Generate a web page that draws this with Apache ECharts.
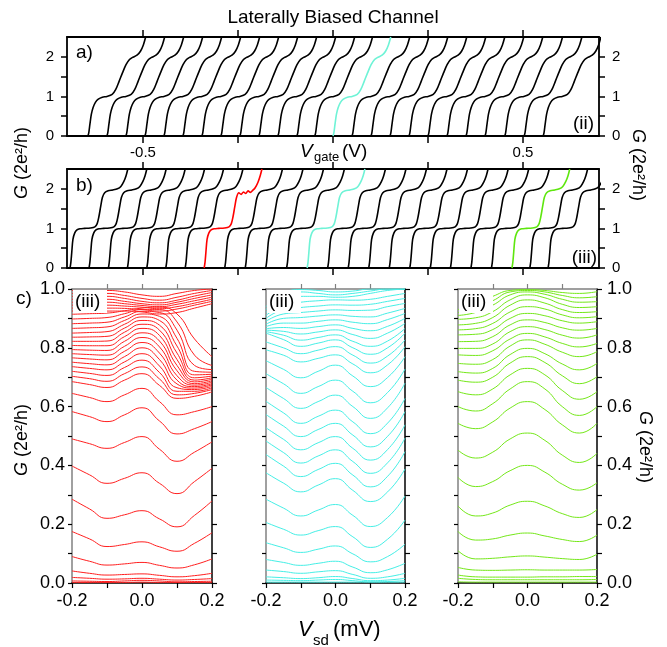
<!DOCTYPE html>
<html>
<head>
<meta charset="utf-8">
<script src="https://cdn.jsdelivr.net/npm/echarts@6/dist/echarts.min.js"></script>
<style>
html, body { margin: 0; padding: 0; background: #fff; }
#chart { width: 667px; height: 647px; }
</style>
</head>
<body>
<div id="chart"></div>
<script>
// ---- panel a: G(Vgate) traces, gate voltage where each trace leaves G = 0
var aStart = [-0.645, -0.595, -0.545, -0.495, -0.445, -0.395, -0.345, -0.295, -0.245, -0.195,
              -0.145, -0.095, -0.048, 0.0, 0.05, 0.1, 0.15, 0.2, 0.25, 0.3,
              0.35, 0.4, 0.452, 0.503, 0.553];
var aWidth = 0.152;          // gate span of one trace, G = 0 .. 2.5
var aCyan = 13;              // highlighted trace
// shape of one trace: fraction of the span -> G
var stepAU = [0, 0.015, 0.035, 0.06, 0.09, 0.13, 0.18, 0.25, 0.33, 0.42, 0.48, 0.54, 0.6, 0.66, 0.72, 0.78, 0.85, 0.91, 0.96, 1.0];
var stepAG = [0, 0.08, 0.3, 0.55, 0.72, 0.85, 0.93, 0.98, 1.0, 1.05, 1.17, 1.38, 1.6, 1.8, 1.93, 1.99, 2.04, 2.14, 2.3, 2.5];

// ---- panel b
var bStart = [-0.692, -0.642, -0.591, -0.541, -0.490, -0.440, -0.389, -0.339, -0.285, -0.231,
              -0.177, -0.122, -0.068, -0.014, 0.040, 0.094, 0.148, 0.202, 0.256, 0.309,
              0.363, 0.417, 0.471, 0.518, 0.566];
var bWidth = 0.152;
var bRed = 7, bCyan = 12, bGreen = 22;
var stepBU = [0, 0.015, 0.03, 0.05, 0.08, 0.12, 0.17, 0.25, 0.35, 0.43, 0.47, 0.5, 0.53, 0.56, 0.6, 0.66, 0.74, 0.82, 0.88, 0.93, 0.97, 1.0];
var stepBG = [0, 0.15, 0.4, 0.72, 0.88, 0.96, 0.99, 1.0, 1.01, 1.04, 1.12, 1.3, 1.55, 1.78, 1.9, 1.95, 1.97, 2.0, 2.06, 2.18, 2.33, 2.5];
// the red trace wobbles on the 2 plateau
var stepRedU = [0, 0.015, 0.03, 0.05, 0.08, 0.12, 0.17, 0.25, 0.35, 0.43, 0.47, 0.5, 0.53, 0.56, 0.6, 0.64, 0.68, 0.72, 0.76, 0.8, 0.84, 0.88, 0.93, 0.97, 1.0];
var stepRedG = [0, 0.15, 0.4, 0.72, 0.88, 0.96, 0.99, 1.0, 1.01, 1.04, 1.12, 1.3, 1.55, 1.78, 1.9, 1.86, 1.92, 1.88, 1.95, 1.91, 1.96, 2.02, 2.16, 2.33, 2.5];

// ---- panel c: G(Vsd), one row per gate voltage
var vsd = [-0.2, -0.15, -0.1, -0.05, 0, 0.05, 0.1, 0.15, 0.2];

var redG = [
  [0.002, 0.002, 0.002, 0.002, 0.003, 0.002, 0.002, 0.002, 0.002],
  [0.007, 0.006, 0.005, 0.007, 0.009, 0.007, 0.004, 0.005, 0.006],
  [0.019, 0.016, 0.013, 0.014, 0.016, 0.013, 0.010, 0.012, 0.015],
  [0.041, 0.033, 0.027, 0.029, 0.031, 0.026, 0.021, 0.025, 0.033],
  [0.090, 0.074, 0.061, 0.065, 0.070, 0.060, 0.051, 0.062, 0.082],
  [0.175, 0.150, 0.124, 0.131, 0.140, 0.123, 0.108, 0.135, 0.171],
  [0.285, 0.252, 0.220, 0.232, 0.246, 0.218, 0.191, 0.230, 0.279],
  [0.398, 0.368, 0.339, 0.356, 0.375, 0.339, 0.304, 0.345, 0.390],
  [0.490, 0.474, 0.458, 0.478, 0.498, 0.455, 0.414, 0.445, 0.480],
  [0.583, 0.566, 0.549, 0.572, 0.596, 0.551, 0.507, 0.525, 0.549],
  [0.645, 0.631, 0.617, 0.640, 0.662, 0.617, 0.572, 0.583, 0.600],
  [0.685, 0.675, 0.665, 0.690, 0.712, 0.672, 0.628, 0.635, 0.650],
  [0.703, 0.695, 0.686, 0.712, 0.735, 0.694, 0.640, 0.645, 0.658],
  [0.720, 0.713, 0.706, 0.733, 0.758, 0.716, 0.652, 0.652, 0.664],
  [0.736, 0.730, 0.725, 0.752, 0.780, 0.738, 0.664, 0.658, 0.669],
  [0.751, 0.746, 0.742, 0.770, 0.800, 0.760, 0.677, 0.663, 0.674],
  [0.766, 0.762, 0.759, 0.788, 0.818, 0.782, 0.690, 0.668, 0.678],
  [0.780, 0.777, 0.775, 0.805, 0.835, 0.803, 0.705, 0.673, 0.683],
  [0.794, 0.792, 0.791, 0.822, 0.851, 0.823, 0.722, 0.678, 0.688],
  [0.808, 0.807, 0.807, 0.838, 0.866, 0.842, 0.740, 0.684, 0.693],
  [0.822, 0.822, 0.823, 0.853, 0.880, 0.860, 0.760, 0.690, 0.698],
  [0.836, 0.837, 0.839, 0.867, 0.893, 0.877, 0.782, 0.698, 0.704],
  [0.850, 0.852, 0.855, 0.880, 0.905, 0.893, 0.806, 0.708, 0.710],
  [0.866, 0.868, 0.871, 0.893, 0.915, 0.907, 0.832, 0.720, 0.717],
  [0.882, 0.884, 0.887, 0.905, 0.924, 0.920, 0.860, 0.740, 0.726],
  [0.898, 0.900, 0.903, 0.916, 0.930, 0.930, 0.888, 0.775, 0.740],
  [0.914, 0.916, 0.918, 0.926, 0.935, 0.938, 0.915, 0.830, 0.770],
  [0.925, 0.925, 0.925, 0.925, 0.922, 0.915, 0.920, 0.935, 0.950],
  [0.935, 0.935, 0.935, 0.934, 0.930, 0.925, 0.932, 0.945, 0.958],
  [0.945, 0.945, 0.945, 0.942, 0.938, 0.933, 0.940, 0.952, 0.965],
  [0.955, 0.955, 0.955, 0.950, 0.944, 0.940, 0.948, 0.960, 0.972],
  [0.965, 0.965, 0.965, 0.958, 0.950, 0.946, 0.955, 0.968, 0.980],
  [0.975, 0.975, 0.975, 0.968, 0.958, 0.953, 0.962, 0.976, 0.988],
  [0.985, 0.985, 0.985, 0.978, 0.968, 0.962, 0.972, 0.985, 0.995],
  [0.995, 0.995, 0.995, 0.990, 0.980, 0.975, 0.985, 0.995, 1.000]
];

var cyanG = [
  [0.003, 0.003, 0.003, 0.003, 0.003, 0.003, 0.003, 0.003, 0.003],
  [0.010, 0.009, 0.008, 0.010, 0.012, 0.008, 0.004, 0.005, 0.008],
  [0.021, 0.018, 0.015, 0.018, 0.022, 0.015, 0.008, 0.010, 0.016],
  [0.044, 0.039, 0.033, 0.038, 0.042, 0.029, 0.016, 0.021, 0.033],
  [0.080, 0.070, 0.060, 0.067, 0.074, 0.054, 0.035, 0.045, 0.067],
  [0.137, 0.120, 0.104, 0.115, 0.126, 0.099, 0.072, 0.090, 0.132],
  [0.206, 0.183, 0.163, 0.178, 0.192, 0.157, 0.121, 0.149, 0.214],
  [0.285, 0.255, 0.228, 0.248, 0.267, 0.230, 0.192, 0.223, 0.296],
  [0.375, 0.340, 0.310, 0.333, 0.355, 0.315, 0.277, 0.310, 0.388],
  [0.437, 0.398, 0.362, 0.386, 0.407, 0.367, 0.327, 0.363, 0.447],
  [0.483, 0.444, 0.408, 0.432, 0.453, 0.413, 0.373, 0.409, 0.493],
  [0.528, 0.489, 0.453, 0.477, 0.498, 0.458, 0.418, 0.454, 0.538],
  [0.573, 0.534, 0.498, 0.522, 0.543, 0.503, 0.463, 0.499, 0.583],
  [0.618, 0.579, 0.543, 0.567, 0.588, 0.548, 0.508, 0.544, 0.628],
  [0.665, 0.628, 0.594, 0.617, 0.639, 0.600, 0.560, 0.596, 0.680],
  [0.712, 0.678, 0.645, 0.668, 0.690, 0.652, 0.613, 0.648, 0.728],
  [0.756, 0.727, 0.698, 0.720, 0.741, 0.704, 0.668, 0.699, 0.770],
  [0.793, 0.775, 0.752, 0.764, 0.776, 0.745, 0.715, 0.742, 0.804],
  [0.820, 0.800, 0.780, 0.792, 0.804, 0.775, 0.748, 0.772, 0.827],
  [0.850, 0.828, 0.805, 0.816, 0.827, 0.800, 0.778, 0.800, 0.850],
  [0.855, 0.843, 0.826, 0.835, 0.844, 0.822, 0.805, 0.823, 0.866],
  [0.860, 0.856, 0.847, 0.854, 0.861, 0.845, 0.832, 0.850, 0.883],
  [0.865, 0.869, 0.866, 0.872, 0.878, 0.866, 0.858, 0.873, 0.900],
  [0.872, 0.884, 0.884, 0.890, 0.895, 0.887, 0.882, 0.896, 0.917],
  [0.880, 0.900, 0.903, 0.908, 0.912, 0.907, 0.905, 0.918, 0.934],
  [0.890, 0.915, 0.920, 0.925, 0.929, 0.927, 0.928, 0.940, 0.951],
  [0.900, 0.930, 0.937, 0.942, 0.946, 0.945, 0.948, 0.958, 0.968],
  [0.910, 0.945, 0.955, 0.960, 0.963, 0.962, 0.965, 0.975, 0.985],
  [0.920, 0.960, 0.975, 0.975, 0.972, 0.975, 0.985, 0.995, 1.000],
  [0.930, 0.975, 0.990, 0.985, 0.980, 0.985, 0.993, 1.000, 1.000],
  [0.940, 0.985, 0.998, 0.995, 0.990, 0.993, 1.000, 1.000, 1.000]
];

var greenG = [
  [0.004, 0.003, 0.003, 0.003, 0.003, 0.003, 0.003, 0.003, 0.003],
  [0.016, 0.012, 0.011, 0.011, 0.011, 0.011, 0.011, 0.011, 0.012],
  [0.027, 0.021, 0.020, 0.020, 0.020, 0.021, 0.021, 0.022, 0.022],
  [0.053, 0.044, 0.043, 0.044, 0.045, 0.044, 0.044, 0.044, 0.046],
  [0.110, 0.082, 0.084, 0.089, 0.092, 0.088, 0.083, 0.080, 0.098],
  [0.175, 0.146, 0.150, 0.163, 0.170, 0.160, 0.148, 0.141, 0.163],
  [0.262, 0.228, 0.238, 0.265, 0.278, 0.262, 0.236, 0.223, 0.250],
  [0.359, 0.328, 0.345, 0.382, 0.400, 0.377, 0.336, 0.316, 0.341],
  [0.452, 0.425, 0.445, 0.490, 0.510, 0.485, 0.435, 0.410, 0.441],
  [0.543, 0.525, 0.548, 0.595, 0.617, 0.590, 0.538, 0.510, 0.543],
  [0.600, 0.585, 0.610, 0.660, 0.685, 0.660, 0.600, 0.570, 0.600],
  [0.651, 0.640, 0.660, 0.708, 0.730, 0.708, 0.655, 0.625, 0.651],
  [0.690, 0.683, 0.700, 0.748, 0.770, 0.750, 0.705, 0.678, 0.702],
  [0.719, 0.714, 0.730, 0.777, 0.798, 0.780, 0.745, 0.725, 0.747],
  [0.747, 0.744, 0.760, 0.806, 0.827, 0.812, 0.785, 0.770, 0.787],
  [0.776, 0.774, 0.790, 0.830, 0.849, 0.837, 0.815, 0.803, 0.815],
  [0.798, 0.798, 0.813, 0.855, 0.872, 0.862, 0.843, 0.833, 0.844],
  [0.821, 0.822, 0.838, 0.878, 0.895, 0.886, 0.868, 0.860, 0.866],
  [0.844, 0.846, 0.862, 0.900, 0.917, 0.909, 0.892, 0.884, 0.889],
  [0.861, 0.865, 0.883, 0.922, 0.940, 0.932, 0.912, 0.902, 0.906],
  [0.878, 0.883, 0.903, 0.945, 0.963, 0.952, 0.930, 0.920, 0.923],
  [0.897, 0.902, 0.923, 0.963, 0.980, 0.970, 0.948, 0.937, 0.940],
  [0.910, 0.920, 0.945, 0.980, 0.990, 0.982, 0.965, 0.955, 0.957],
  [0.920, 0.935, 0.960, 0.990, 0.995, 0.990, 0.978, 0.970, 0.974],
  [0.930, 0.950, 0.975, 0.995, 0.998, 0.995, 0.988, 0.985, 0.991]
];

var FONT = '"Liberation Sans", Arial, sans-serif';
var CYAN = '#6ff3d6', RED = '#ff0000', GREEN = '#5ee60e';
var RED_C = '#ff1f1f', CYAN_C = '#45efe6', GREEN_C = '#74e818';
var GREY = '#808080';

var chart = echarts.init(document.getElementById('chart'));

function stepTrace(x0, w, us, gs) {
  return us.map(function (u, i) { return [x0 + u * w, gs[i]]; });
}

var series = [];
aStart.forEach(function (x0, i) {
  series.push({
    type: 'line', xAxisIndex: 0, yAxisIndex: 0, showSymbol: false, smooth: 0.3,
    data: stepTrace(x0, aWidth, stepAU, stepAG),
    lineStyle: { color: i === aCyan ? CYAN : '#000', width: 1.6 }, z: i === aCyan ? 3 : 2
  });
});
bStart.forEach(function (x0, i) {
  var col = '#000';
  if (i === bRed) col = RED;
  if (i === bCyan) col = CYAN;
  if (i === bGreen) col = GREEN;
  var d = i === bRed ? stepTrace(x0, bWidth, stepRedU, stepRedG) : stepTrace(x0, bWidth, stepBU, stepBG);
  series.push({
    type: 'line', xAxisIndex: 2, yAxisIndex: 2, showSymbol: false, smooth: 0.3,
    data: d, lineStyle: { color: col, width: 1.6 }, z: col === '#000' ? 2 : 3
  });
});

function addFan(rows, grid, color) {
  rows.forEach(function (row) {
    series.push({
      type: 'line', xAxisIndex: grid * 2, yAxisIndex: grid * 2, showSymbol: false, smooth: 0.5,
      data: row.map(function (g, i) { return [vsd[i], g]; }),
      lineStyle: { color: color, width: 1 }
    });
  });
}
addFan(redG, 2, RED_C);
addFan(cyanG, 3, CYAN_C);
addFan(greenG, 4, GREEN_C);

var grids = [
  { left: 67, top: 37, width: 532, height: 99 },
  { left: 67, top: 169, width: 532, height: 99 },
  { left: 72, top: 289, width: 140, height: 294 },
  { left: 266, top: 289, width: 139, height: 294 },
  { left: 458, top: 289, width: 139, height: 294 }
];

var xAxes = [], yAxes = [];
function lbl(size, margin, show, values, fmt) {
  var o = { show: show, fontSize: size, fontFamily: FONT, color: '#000', margin: margin };
  if (values) o.customValues = values;
  if (fmt) o.formatter = fmt;
  return o;
}
// panels a, b
[0, 1].forEach(function (g) {
  ['bottom', 'top'].forEach(function (p) {
    xAxes.push({
      type: 'value', gridIndex: g, position: p, min: -0.7, max: 0.7,
      axisLine: { onZero: false, lineStyle: { color: '#000', width: 1.8 } },
      axisTick: { inside: false, length: 7, customValues: [-0.5, -0.25, 0, 0.25, 0.5], lineStyle: { width: 1.5 } },
      axisLabel: lbl(15, 9, g === 0 && p === 'bottom', [-0.5, 0.5]), splitLine: { show: false }
    });
  });
  ['left', 'right'].forEach(function (p) {
    yAxes.push({
      type: 'value', gridIndex: g, position: p, min: 0, max: 2.5,
      axisLine: { show: true, onZero: false, lineStyle: { color: '#000', width: 1.8 } },
      axisTick: { show: true, inside: false, length: 6, customValues: [0, 0.5, 1, 1.5, 2], lineStyle: { width: 1.5 } },
      axisLabel: lbl(15, 13, true, [0, 1, 2]), splitLine: { show: false }
    });
  });
});
// panel c
[2, 3, 4].forEach(function (g) {
  xAxes.push({
    type: 'value', gridIndex: g, position: 'bottom', min: -0.2, max: 0.2,
    axisLine: { onZero: false, lineStyle: { color: '#000', width: 1.5 } },
    axisTick: { inside: false, length: 5, customValues: [-0.2, -0.1, 0, 0.1, 0.2], lineStyle: { width: 1.2 } },
    axisLabel: lbl(18, 9, true, [-0.2, 0, 0.2], function (v) { return v.toFixed(1); }),
    splitLine: { show: false }
  });
  xAxes.push({
    type: 'value', gridIndex: g, position: 'top', min: -0.2, max: 0.2,
    axisLine: { onZero: false, lineStyle: { color: GREY, width: 1.5 } },
    axisTick: { inside: false, length: 5, customValues: [-0.1, 0, 0.1], lineStyle: { width: 1.2 } },
    axisLabel: { show: false }, splitLine: { show: false }
  });
  var ticks = [0, 0.1, 0.2, 0.3, 0.4, 0.5, 0.6, 0.7, 0.8, 0.9, 1.0];
  yAxes.push({
    type: 'value', gridIndex: g, position: 'left', min: 0, max: 1,
    axisLine: { show: true, onZero: false, lineStyle: { color: GREY, width: 1.5 } },
    axisTick: { show: true, inside: false, length: 4, customValues: ticks, lineStyle: { color: '#000', width: 1.2 } },
    axisLabel: lbl(18, 7, g === 2, [0, 0.2, 0.4, 0.6, 0.8, 1.0], function (v) { return v.toFixed(1); }),
    splitLine: { show: false }
  });
  yAxes.push({
    type: 'value', gridIndex: g, position: 'right', min: 0, max: 1,
    axisLine: { show: true, onZero: false, lineStyle: { color: '#000', width: 1.5 } },
    axisTick: { show: true, inside: false, length: 5, customValues: ticks, lineStyle: { color: '#000', width: 1.2 } },
    axisLabel: lbl(18, 10, g === 4, [0, 0.2, 0.4, 0.6, 0.8, 1.0], function (v) { return v.toFixed(1); }),
    splitLine: { show: false }
  });
});

function txt(x, y, text, size, opt) {
  opt = opt || {};
  return {
    type: 'text', z: 100, x: x, y: y, rotation: opt.rot || 0,
    style: {
      text: text, fill: '#000', font: (opt.italic ? 'italic ' : '') + size + 'px ' + FONT,
      align: opt.align || 'left', textAlign: opt.align || 'left',
      verticalAlign: 'middle', textVerticalAlign: 'middle', rich: opt.rich
    }
  };
}
var gRich = { i: { fontStyle: 'italic', fontSize: 18, fontFamily: FONT } };
var elements = [
  txt(333, 18, 'Laterally Biased Channel', 19, { align: 'center' }),
  txt(76, 53, 'a)', 19),
  txt(76, 186, 'b)', 19),
  txt(16, 299, 'c)', 19),
  txt(594, 124, '(ii)', 19, { align: 'right' }),
  txt(597, 258, '(iii)', 19, { align: 'right' }),
  txt(300, 152, 'V', 19, { italic: true }),
  txt(314, 157, 'gate', 13),
  txt(342, 152, '(V)', 19),
  txt(298, 630, 'V', 22, { italic: true }),
  txt(313, 641, 'sd', 15),
  txt(333, 630, '(mV)', 22),
  txt(22, 163, '{i|G} (2e\u00b2/h)', 18, { align: 'center', rot: Math.PI / 2, rich: gRich }),
  txt(638, 165, '{i|G} (2e\u00b2/h)', 18, { align: 'center', rot: -Math.PI / 2, rich: gRich }),
  txt(22, 440, '{i|G} (2e\u00b2/h)', 18, { align: 'center', rot: Math.PI / 2, rich: gRich }),
  txt(645, 447, '{i|G} (2e\u00b2/h)', 18, { align: 'center', rot: -Math.PI / 2, rich: gRich })
];
// "(iii)" tags on white boxes in panel c
[73, 267, 459].forEach(function (x) {
  elements.push({ type: 'rect', z: 90, shape: { x: x, y: 290, width: 34, height: 23 }, style: { fill: '#fff' } });
  elements.push(txt(x + 2, 302, '(iii)', 19));
});

chart.setOption({
  animation: false,
  backgroundColor: '#fff',
  grid: grids,
  xAxis: xAxes,
  yAxis: yAxes,
  graphic: { elements: elements },
  series: series
});
</script>
</body>
</html>
